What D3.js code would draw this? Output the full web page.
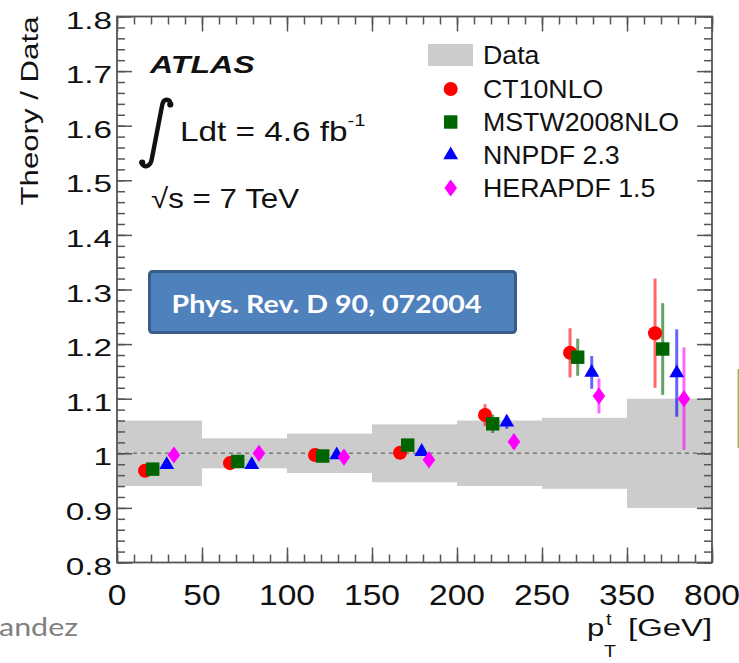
<!DOCTYPE html>
<html>
<head>
<meta charset="utf-8">
<script src="https://cdn.jsdelivr.net/npm/d3@7"></script>
<style>
  html, body { margin: 0; padding: 0; background: #ffffff; }
  svg { display: block; }
</style>
</head>
<body>
<svg id="chart" width="739" height="663"></svg>
<script>
// ---- data ------------------------------------------------------------
// top-quark pT bins (GeV), drawn as equal-width bins
const binEdges = ["0", "50", "100", "150", "200", "250", "350", "800"];
// relative total uncertainty of the measurement in each bin
const dataBandHalf = [0.060, 0.0275, 0.036, 0.053, 0.060, 0.065, 0.100];

const seriesNames = ["CT10NLO", "MSTW2008NLO", "NNPDF 2.3", "HERAPDF 1.5"];
const ct10Ratio  = [0.968, 0.982, 0.997, 1.001, 1.070, 1.184, 1.220];
const ct10Err    = [0.008, 0.008, 0.008, 0.010, 0.020, 0.045, 0.100];
const mstwRatio  = [0.971, 0.985, 0.995, 1.015, 1.054, 1.176, 1.191];
const mstwErr    = [0.008, 0.008, 0.008, 0.010, 0.017, 0.034, 0.084];
const nnpdfRatio = [0.979, 0.979, 0.997, 1.003, 1.057, 1.148, 1.147];
const nnpdfErr   = [0.006, 0.006, 0.006, 0.008, 0.012, 0.030, 0.080];
const heraRatio  = [0.997, 1.000, 0.993, 0.988, 1.021, 1.105, 1.100];
const heraErr    = [0.006, 0.006, 0.006, 0.008, 0.014, 0.032, 0.094];

const yTickValues = [0.8, 0.9, 1.0, 1.1, 1.2, 1.3, 1.4, 1.5, 1.6, 1.7, 1.8];
const yTickLabels = ["0.8", "0.9", "1", "1.1", "1.2", "1.3", "1.4", "1.5", "1.6", "1.7", "1.8"];

// ---- layout ----------------------------------------------------------
const svg = d3.select("#chart");
const FONT = "'Liberation Sans', Arial, Helvetica, sans-serif";
const frame = { left: 117, right: 712, top: 16.5, bottom: 562.5 };

const x = d3.scaleLinear().domain([0, binEdges.length - 1]).range([frame.left, frame.right]);
const y = d3.scaleLinear().domain([0.8, 1.8]).range([frame.bottom, frame.top]);

// text helper: ROOT-style labels drawn with a horizontal stretch
function label(parent, opts) {
  const t = parent.append("text")
    .attr("transform", `translate(${opts.x},${opts.y})` + (opts.rotate ? ` rotate(${opts.rotate})` : "") + ` scale(${opts.sx || 1},1)`)
    .attr("font-family", opts.family || FONT)
    .attr("font-size", opts.size)
    .attr("font-weight", opts.weight || "normal")
    .attr("font-style", opts.style || "normal")
    .attr("fill", opts.fill || "#111")
    .attr("text-anchor", opts.anchor || "start");
  if (opts.textLength) t.attr("textLength", opts.textLength).attr("lengthAdjust", "spacingAndGlyphs");
  t.text(opts.text);
  return t;
}

// ---- uncertainty band of the data ------------------------------------
svg.append("g").attr("class", "data-band")
  .selectAll("rect").data(dataBandHalf).join("rect")
  .attr("x", (d, i) => x(i))
  .attr("width", (d, i) => x(i + 1) - x(i))
  .attr("y", d => y(1 + d))
  .attr("height", d => y(1 - d) - y(1 + d))
  .attr("fill", "#cccccc");

// reference line at unity
svg.append("line")
  .attr("x1", x(0)).attr("x2", x(binEdges.length - 1))
  .attr("y1", y(1)).attr("y2", y(1))
  .attr("stroke", "#777").attr("stroke-width", 1.6)
  .attr("stroke-dasharray", "4,4");

// ---- theory predictions ----------------------------------------------
const diamond = {
  draw(ctx, size) {
    const w = Math.sqrt(size) * 0.5, h = w * 1.35;
    ctx.moveTo(0, -h); ctx.lineTo(w, 0); ctx.lineTo(0, h); ctx.lineTo(-w, 0); ctx.closePath();
  }
};

const series = [
  { name: seriesNames[0], values: ct10Ratio,  errors: ct10Err,  color: "#ff0000", type: d3.symbolCircle,   size: 155, offset: 0.33 },
  { name: seriesNames[1], values: mstwRatio,  errors: mstwErr,  color: "#006400", type: d3.symbolSquare,   size: 180, offset: 0.42 },
  { name: seriesNames[2], values: nnpdfRatio, errors: nnpdfErr, color: "#0000ff", type: d3.symbolTriangle, size: 95,  offset: 0.585 },
  { name: seriesNames[3], values: heraRatio,  errors: heraErr,  color: "#ff00ff", type: diamond,           size: 160, offset: 0.67 }
];

const points = svg.append("g").attr("class", "predictions");
series.forEach(s => {
  const g = points.append("g");
  const rows = s.values.map((v, i) => ({ i, v, e: s.errors[i] }));
  g.selectAll("line").data(rows).join("line")
    .attr("x1", d => x(d.i + s.offset)).attr("x2", d => x(d.i + s.offset))
    .attr("y1", d => y(d.v - d.e)).attr("y2", d => y(d.v + d.e))
    .attr("stroke", s.color).attr("stroke-opacity", 0.6).attr("stroke-width", 3);
});
series.forEach(s => {
  const rows = s.values.map((v, i) => ({ i, v }));
  points.append("g").selectAll("path").data(rows).join("path")
    .attr("transform", d => `translate(${x(d.i + s.offset)},${y(d.v)})`)
    .attr("d", d3.symbol().type(s.type).size(s.size))
    .attr("fill", s.color);
});

// ---- axes: frame with inward ticks on all four sides -----------------
const xMajor = d3.range(0, binEdges.length);
const xMinor = d3.range(0, (binEdges.length - 1) * 5 + 1).map(i => i / 5);
const yMinor = d3.range(40, 91).map(i => i / 50);

function ticks(axisFn, scale, values, len, transform) {
  const g = svg.append("g").attr("transform", transform)
    .call(axisFn(scale).tickValues(values).tickSize(-len).tickFormat(""));
  g.select(".domain").remove();
  g.selectAll("line").attr("stroke", "#555").attr("stroke-width", 1.5);
  g.selectAll("text").remove();
}
ticks(d3.axisBottom, x, xMinor, 8, `translate(0,${frame.bottom})`);
ticks(d3.axisBottom, x, xMajor, 15, `translate(0,${frame.bottom})`);
ticks(d3.axisTop, x, xMinor, 8, `translate(0,${frame.top})`);
ticks(d3.axisTop, x, xMajor, 15, `translate(0,${frame.top})`);
ticks(d3.axisLeft, y, yMinor, 8, `translate(${frame.left},0)`);
ticks(d3.axisLeft, y, yTickValues, 15, `translate(${frame.left},0)`);
ticks(d3.axisRight, y, yMinor, 8, `translate(${frame.right},0)`);
ticks(d3.axisRight, y, yTickValues, 15, `translate(${frame.right},0)`);

svg.append("rect")
  .attr("x", frame.left).attr("y", frame.top)
  .attr("width", frame.right - frame.left).attr("height", frame.bottom - frame.top)
  .attr("fill", "none").attr("stroke", "#555").attr("stroke-width", 1.8);

// tick labels
const labels = svg.append("g");
binEdges.forEach((b, i) => label(labels, { x: x(i), y: 605, text: b, size: 30, sx: 1.12, anchor: "middle" }));
yTickValues.forEach((v, i) => label(labels, { x: 112, y: y(v) + 12, text: yTickLabels[i], size: 24.5, sx: 1.36, anchor: "end" }));

// axis titles
label(svg, { x: 38, y: 111, rotate: -90, text: "Theory / Data", size: 24, sx: 1.3, anchor: "middle" });

const xTitle = svg.append("g");
label(xTitle, { x: 587, y: 636, text: "p", size: 23, sx: 1.35 });
label(xTitle, { x: 606, y: 625, text: "t", size: 16, sx: 1.25 });
label(xTitle, { x: 604, y: 657, text: "T", size: 17, sx: 1.15 });
label(xTitle, { x: 628, y: 636, text: "[GeV]", size: 23.5, sx: 1.4 });

// ---- experiment labels ------------------------------------------------
label(svg, { x: 150, y: 72.5, text: "ATLAS", size: 24.5, sx: 1.31, weight: "bold", style: "italic" });

svg.append("path")
  .attr("d", "M170.5,104 C170,98.5 163.5,98 162.3,104.5 L151.8,159 C150.3,167.5 143,168 141.8,163")
  .attr("fill", "none").attr("stroke", "#111").attr("stroke-width", 4.4).attr("stroke-linecap", "round");
svg.append("circle").attr("cx", 170.3).attr("cy", 104.5).attr("r", 3.1).attr("fill", "#111");
svg.append("circle").attr("cx", 142.2).attr("cy", 162.5).attr("r", 3.1).attr("fill", "#111");

const lumi = svg.append("text")
  .attr("transform", "translate(180,141) scale(1.19,1)")
  .attr("font-family", FONT).attr("font-size", 28).attr("fill", "#111");
lumi.append("tspan").text("Ldt = 4.6 fb");
lumi.append("tspan").attr("font-size", 17).attr("dy", -15).text("-1");

label(svg, { x: 151, y: 208, text: "\u221As = 7 TeV", size: 28, sx: 1.12 });

// ---- legend -----------------------------------------------------------
const legend = svg.append("g");
legend.append("rect").attr("x", 428).attr("y", 44).attr("width", 45).attr("height", 22).attr("fill", "#cccccc");
label(legend, { x: 483, y: 64, text: "Data", size: 25, sx: 1.07 });
series.forEach((s, i) => {
  const cy = 89 + i * 33;
  legend.append("path")
    .attr("transform", `translate(450.7,${cy})`)
    .attr("d", d3.symbol().type(s.type).size(s.size))
    .attr("fill", s.color);
  label(legend, { x: 483, y: cy + 8.5, text: s.name, size: 25, sx: 1.07 });
});

// ---- publication reference box ------------------------------------------
svg.append("rect")
  .attr("x", 149.5).attr("y", 271.5).attr("width", 366).attr("height", 61).attr("rx", 3)
  .attr("fill", "#4f81bd").attr("stroke", "#385d8a").attr("stroke-width", 3);
label(svg, { x: 171.5, y: 313, text: "Phys. Rev. D 90, 072004", size: 25, weight: "bold",
             family: "Lato, 'Open Sans', sans-serif", fill: "#ffffff", textLength: 310 });

// ---- slide furniture ----------------------------------------------------
label(svg, { x: -1, y: 636, text: "andez", size: 25, family: "Lato, 'Open Sans', sans-serif", fill: "#808080", textLength: 79 });
svg.append("line").attr("x1", 738.5).attr("x2", 738.5).attr("y1", 369).attr("y2", 448)
  .attr("stroke", "#9bbb59").attr("stroke-width", 2);
</script>
</body>
</html>
